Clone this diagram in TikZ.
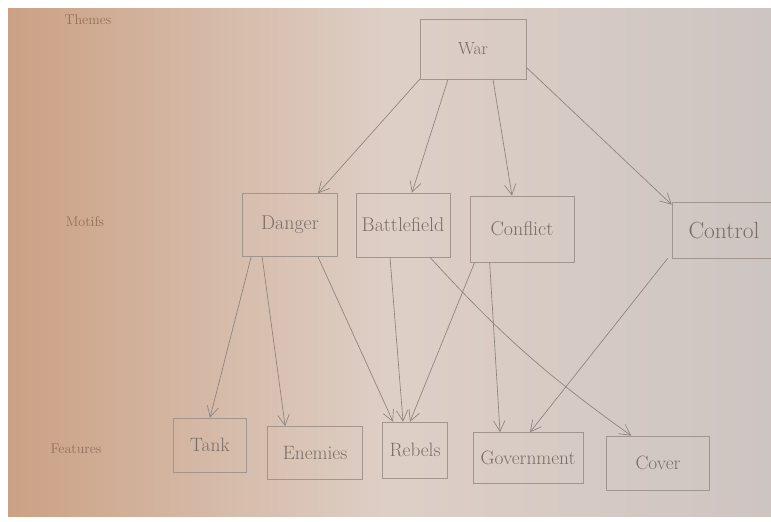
\documentclass[tikz,border=0pt]{standalone}
\usepackage{tikz}
\usetikzlibrary{arrows.meta,calc}
\definecolor{papertan}{HTML}{CBA184}
\definecolor{paperlight}{HTML}{DECFC6}
\definecolor{papergrey}{HTML}{CDC5C2}
\definecolor{pencil}{HTML}{8C817B}
\definecolor{pencilsoft}{HTML}{A1958E}
\definecolor{pencilink}{HTML}{7A6D66}
\definecolor{tanink}{HTML}{93705C}
\tikzset{
  >={Straight Barb[length=3.2mm,width=3.4mm]},
  % kästen
  sz/.style 2 args={minimum width=#1*0.3mm,minimum height=#2*0.3mm},
  themebox/.style={draw=pencilsoft,line width=0.6pt,inner sep=0pt,text=pencilink,
                   font=\fontsize{15}{18}\selectfont},
  motifbox/.style={draw=pencilsoft,line width=0.6pt,inner sep=0pt,text=pencilink,
                   font=\fontsize{17}{20}\selectfont},
  featbox/.style={draw=pencilsoft,line width=0.6pt,inner sep=0pt,text=pencilink,
                  font=\fontsize{16.5}{20}\selectfont},
  rowlabel/.style={text=tanink,font=\fontsize{12}{14}\selectfont,inner sep=1pt},
  % pfeile
  link/.style={->,draw=pencil,line width=0.55pt},
}

\begin{document}
\begin{tikzpicture}[x=0.3mm,y=-0.3mm]
\useasboundingbox (0,0) rectangle (771,522);
  \fill[white] (0,0) rectangle (771,522);
  \shade[left color=papertan,right color=papergrey,middle color=paperlight]
    (8,9) rectangle (771,516);
  % zeilen
  \node[rowlabel] (lthemes) at (88,20) {Themes};
  \node[rowlabel] (lmotifs) at (85,222) {Motifs};
  \node[rowlabel] (lfeat) at (76,449) {Features};
  % themen
  \node[themebox,sz={106}{60}] (war) at (473,49) {War};
  % motive
  \node[motifbox,sz={95}{63}] (danger) at (290,225) {Danger};
  \node[motifbox,sz={94}{64}] (battle) at (403,225) {Battlefield};
  \node[motifbox,sz={104}{66}] (conflict) at (522,229) {Conflict};
  \node[motifbox,sz={104}{56},font=\fontsize{20}{24}\selectfont] (control) at (724,230) {Control};
  % merkmale
  \node[featbox,sz={73}{54}] (tank) at (210,445) {Tank};
  \node[featbox,sz={95}{53}] (enemies) at (315,453) {Enemies};
  \node[featbox,sz={65}{56}] (rebels) at (415,450) {Rebels};
  \node[featbox,sz={110}{51}] (gov) at (528,458) {Government};
  \node[featbox,sz={103}{54}] (cover) at (658,463) {Cover};
  % war -> motive
  \draw[link] (war.south west) -- ($(danger.north)+(28,0)$);
  \draw[link] ($(war.south)+(-25,0)$) -- ($(battle.north)+(9,0)$);
  \draw[link] ($(war.south)+(20,0)$) -- ($(conflict.north)+(-10,0)$);
  \draw[link] ($(war.south east)+(0,-12)$) -- ($(control.north west)+(0,3)$);
  % motive -> merkmale
  \draw[link] ($(danger.south west)+(9,0)$) -- (tank.north);
  \draw[link] ($(danger.south west)+(20,0)$) -- ($(enemies.north west)+(18,0)$);
  \draw[link] ($(danger.south)+(28,0)$) -- ($(rebels.north)+(-22,0)$);
  \draw[link] ($(battle.south)+(-13,0)$) -- ($(rebels.north)+(-12,0)$);
  \draw[link] ($(battle.south)+(27,0)$) to[bend right=6] ($(cover.north west)+(25,0)$);
  \draw[link] ($(conflict.south west)+(5,0)$) -- ($(rebels.north)+(-5,0)$);
  \draw[link] ($(conflict.south west)+(20,0)$) -- ($(gov.north)+(-28,0)$);
  \draw[link] ($(control.south west)+(-4,0)$) -- ($(gov.north)+(2,0)$);
\end{tikzpicture}
\end{document}
